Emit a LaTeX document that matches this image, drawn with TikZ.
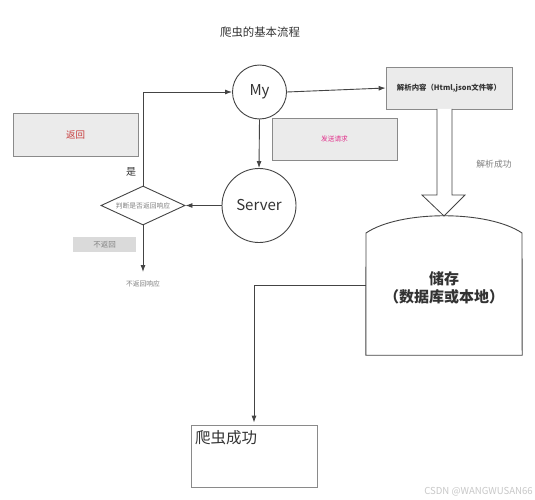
\documentclass[tikz,border=0pt]{standalone}
\usepackage{fontspec}
\setmainfont{Noto Sans CJK SC}
\usetikzlibrary{shapes.geometric,arrows.meta}
\definecolor{ln}{HTML}{444444}
\definecolor{boxfill}{HTML}{EBEBEB}
\definecolor{boxdraw}{HTML}{8A8A8A}
\definecolor{txt}{HTML}{333333}
\begin{document}
\begin{tikzpicture}[x=1pt,y=-1pt,
  arr/.style={draw=ln,line width=0.9pt,-{Latex[length=7pt,width=5pt]}},
  circ/.style={circle,draw=ln,line width=0.9pt,inner sep=0pt,text=txt},
  graybox/.style={rectangle,draw=boxdraw,fill=boxfill,line width=0.7pt,inner sep=0pt},
  lbl/.style={inner sep=0pt,text=txt}]
\useasboundingbox (0,0) rectangle (535,500);
\fill[white] (0,0) rectangle (535,500);

\node[lbl,font=\fontsize{11.4}{13}\selectfont] (title) at (260,32) {爬虫的基本流程};

\node[circ,minimum size=54pt,font=\fontsize{15}{17}\selectfont] (my) at (259.5,92) {My};
\node[circ,minimum size=74pt,font=\fontsize{15}{17}\selectfont] (server) at (259,205.5) {Server};

\node[graybox,minimum width=125pt,minimum height=43pt,text={rgb,255:red,200;green,60;blue,60},font=\fontsize{9.5}{11}\selectfont] (ret) at (75.5,134.5) {返回};
\node[graybox,minimum width=125pt,minimum height=42pt,text={rgb,255:red,226;green,50;blue,140},font=\fontsize{6.7}{8}\selectfont] (send) at (334.5,139) {发送请求};
\node[graybox,minimum width=126pt,minimum height=42pt,text=txt,font=\bfseries\fontsize{7.4}{9}\selectfont] (parse) at (449,88) {解析内容（Html,json文件等）};

\node[lbl,font=\fontsize{10}{12}\selectfont] (yes) at (131,172) {是};

\node[diamond,draw=ln,line width=0.9pt,minimum width=84pt,minimum height=39pt,inner sep=0pt,aspect=2.15] (dia) at (143,205.5) {};
\node[lbl,text=gray,font=\fontsize{6.8}{8}\selectfont] (dialbl) at (dia.center) {判断是否返回响应};

\node[rectangle,fill={rgb,255:red,218;green,218;blue,218},minimum width=63pt,minimum height=15pt,inner sep=0pt,text=gray,font=\fontsize{7.5}{9}\selectfont] (noret) at (104.5,244.5) {不返回};
\coordinate (noend) at (143,272);
\node[lbl,text=gray,font=\fontsize{6.8}{8}\selectfont] (noresp) at (143,284) {不返回响应};

\node[lbl,text=gray,font=\fontsize{8.8}{10}\selectfont] (ok) at (494,164) {解析成功};

% storage shape
\node[rectangle,minimum width=156pt,minimum height=139pt,inner sep=0pt] (store) at (444,285.5) {};
\draw[ln,line width=0.9pt] (store.south west) -- (366,233) .. controls (400,210) and (488,210) .. (522,233) -- (store.south east) -- cycle;
\node[lbl,align=center,font=\bfseries\fontsize{15}{18.5}\selectfont] (storelbl) at (444,288) {储存\\（数据库或本地）};

% hollow arrow
\draw[ln,line width=0.8pt,fill=white] (437,109) -- (437,195) -- (422,195) -- (444,216) -- (465,195) -- (452,195) -- (452,109);

\node[rectangle,draw=boxdraw,line width=0.8pt,minimum width=126pt,minimum height=62pt,inner sep=0pt] (succ) at (254,456) {};
\node[lbl,anchor=north west,font=\fontsize{15.5}{17}\selectfont] (succlbl) at (195,430) {爬虫成功};

\node[lbl,text={rgb,255:red,200;green,200;blue,200},font=\fontsize{9.6}{11}\selectfont,anchor=east] (wm) at (533,492) {CSDN @WANGWUSAN66};

% connectors
\draw[arr] (dia.north) |- (my.west);
\draw[arr] (my.south) -- (server.north);
\draw[arr] (server.west) -- (dia.east);
\draw[arr] (dia.south) -- (noend);
\draw[arr] (my.east) -- (parse.west);
\draw[arr,shorten >=2pt] (store.west) -| (succ.north);
\end{tikzpicture}
\end{document}
